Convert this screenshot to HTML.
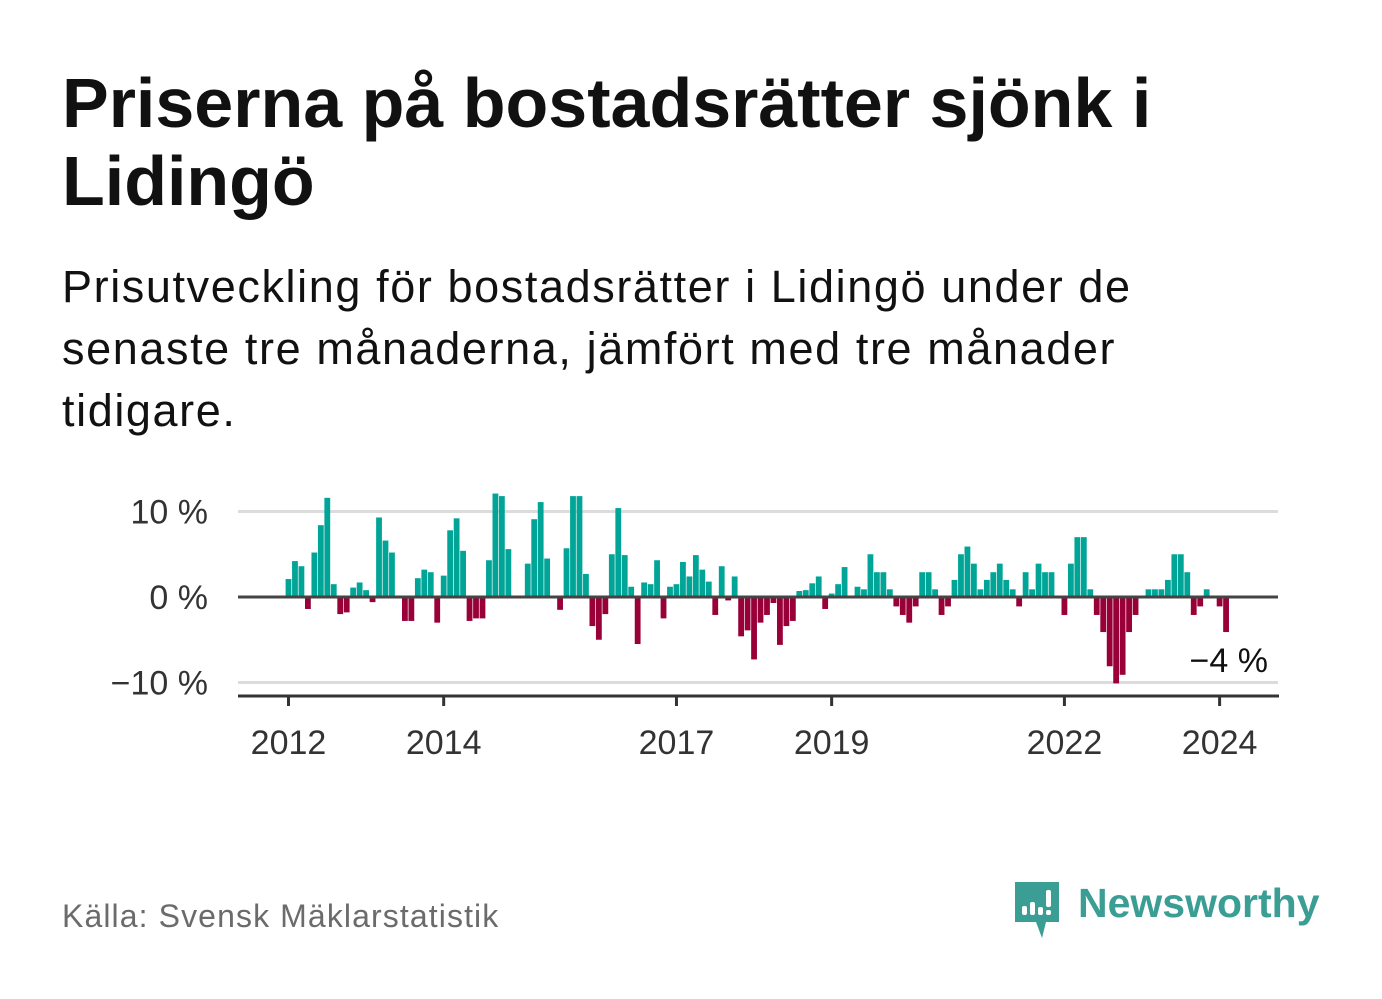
<!DOCTYPE html>
<html><head><meta charset="utf-8">
<style>
html,body{margin:0;padding:0;background:#fff;}
body{width:1382px;height:999px;position:relative;overflow:hidden;font-family:"Liberation Sans","DejaVu Sans",sans-serif;}
.title{position:absolute;left:62px;top:64px;width:1250px;font-size:70px;font-weight:bold;line-height:78px;color:#111;margin:0;}
.sub{position:absolute;left:62px;top:256px;width:1170px;font-size:45px;letter-spacing:1.6px;line-height:62px;color:#111;margin:0;}
.src{position:absolute;left:62px;top:898px;font-size:32px;letter-spacing:1.1px;color:#6b6b6b;}
svg{position:absolute;left:0;top:0;}
</style></head>
<body>
<h1 class="title">Priserna på bostadsrätter sjönk i Lidingö</h1>
<p class="sub">Prisutveckling för bostadsrätter i Lidingö under de senaste tre månaderna, jämfört med tre månader tidigare.</p>
<svg id="chart" width="1382" height="999"></svg>
<div class="src">Källa: Svensk Mäklarstatistik</div>
<div style="position:absolute;left:1012px;top:880px;width:310px;height:60px;">
<svg width="50" height="60" style="position:absolute;left:0;top:0">
<path d="M3 2 H47 V42 H34 L30 58 L24 42 H3 Z" fill="#3a9e95"/>
<rect x="10" y="26" width="5" height="9" rx="2" fill="#fff"/>
<rect x="18" y="22" width="5" height="13" rx="2" fill="#fff"/>
<rect x="26" y="27" width="5" height="8" rx="2" fill="#fff"/>
<rect x="34" y="10" width="5" height="17" rx="2" fill="#fff"/>
<rect x="34" y="30" width="5" height="5" rx="2" fill="#fff"/>
</svg>
<div style="position:absolute;left:66px;top:0px;font-size:41px;font-weight:bold;color:#3a9e95;">Newsworthy</div>
</div>
<script>
const values=[2.1,4.2,3.6,-1.4,5.2,8.4,11.6,1.5,-2.0,-1.8,1.1,1.7,
0.8,-0.6,9.3,6.6,5.2,0,-2.8,-2.8,2.2,3.2,2.9,-3.0,
2.5,7.8,9.2,5.4,-2.8,-2.5,-2.5,4.3,12.1,11.8,5.6,0,
0,3.9,9.1,11.1,4.5,0,-1.5,5.7,11.8,11.8,2.7,-3.4,
-5.0,-2.0,5.0,10.4,4.9,1.2,-5.5,1.7,1.5,4.3,-2.5,1.2,
1.5,4.1,2.4,4.9,3.2,1.8,-2.1,3.6,-0.4,2.4,-4.6,-3.9,
-7.3,-3.0,-2.1,-0.7,-5.6,-3.4,-2.8,0.7,0.8,1.6,2.4,-1.4,
0.4,1.5,3.5,0,1.2,0.9,5.0,2.9,2.9,0.9,-1.1,-2.1,
-3.0,-1.1,2.9,2.9,0.9,-2.1,-1.1,2.0,5.0,5.9,3.9,0.9,
2.0,2.9,3.9,2.0,0.9,-1.1,2.9,0.9,3.9,2.9,2.9,0,
-2.1,3.9,7.0,7.0,0.9,-2.1,-4.1,-8.1,-10.1,-9.1,-4.1,-2.1,
0,0.9,0.9,0.9,2.0,5.0,5.0,2.9,-2.1,-1.1,0.9,0,
-1.1,-4.1];
const yTicks=[10,0,-10];
const yTickLabels=["10 %","0 %","\u221210 %"];
const xTickYears=[2012,2014,2017,2019,2022,2024];
const lastLabel="\u22124 %";
const NS="http://www.w3.org/2000/svg";
const svg=document.getElementById('chart');
const x=(i)=>288.5+i*6.466;
const xYear=(yr)=>x((yr-2012)*12);
const y=(v)=>597-v*8.55;
function mk(t,a){const e=document.createElementNS(NS,t);for(const k in a)e.setAttribute(k,a[k]);svg.appendChild(e);return e;}
yTicks.forEach((t,k)=>{
  if(t!==0){const g=mk('line',{x1:238,x2:1278,y1:y(t),y2:y(t),stroke:'#dcdcdc','stroke-width':3});
  
  }
  const tx=mk('text',{x:208,y:y(t)+12,'text-anchor':'end','font-size':34,fill:'#333','font-family':'Liberation Sans, sans-serif'});
  tx.textContent=yTickLabels[k];
  
  
});
values.forEach((v,i)=>{
  if(v===0)return;
  const r=mk('rect',{x:x(i)-2.9,width:5.8,y:v>0?y(v):y(0),height:Math.abs(y(v)-y(0)),fill:v>0?'#00a597':'#990038'});
  
  
});
const z=mk('line',{x1:238,x2:1278,y1:y(0),y2:y(0),stroke:'#444','stroke-width':3});


const ax=mk('line',{x1:238,x2:1279,y1:696,y2:696,stroke:'#333','stroke-width':3});


xTickYears.forEach(yr=>{
  const tk=mk('line',{x1:xYear(yr),x2:xYear(yr),y1:696,y2:706,stroke:'#333','stroke-width':3});
  
  
  const tx=mk('text',{x:xYear(yr),y:754,'text-anchor':'middle','font-size':34,fill:'#333','font-family':'Liberation Sans, sans-serif'});
  tx.textContent=yr;
  
  
});
const ll=mk('text',{x:1268,y:672,'text-anchor':'end','font-size':34,fill:'#111','font-family':'Liberation Sans, sans-serif'});
ll.textContent=lastLabel;


</script>
</body></html>
